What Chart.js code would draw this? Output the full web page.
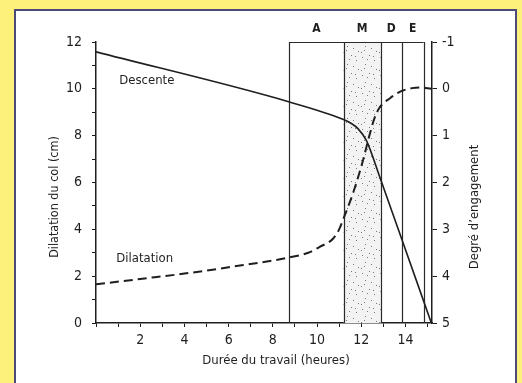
<!DOCTYPE html>
<html>
<head>
<meta charset="utf-8">
<script src="https://cdn.jsdelivr.net/npm/chart.js@4.4.1/dist/chart.umd.min.js"></script>
<style>
  html, body { margin: 0; padding: 0; }
  body { width: 522px; height: 383px; background: #fdf17c; position: relative; overflow: hidden; }
  #panel { position: absolute; left: 14px; top: 9px; width: 503px; height: 400px; background: #fff; border: 2px solid #4b4a78; box-sizing: border-box; }
  #chart { position: absolute; left: 0; top: 0; }
</style>
</head>
<body>
<div id="panel"></div>
<canvas id="chart" width="522" height="383"></canvas>
<script>
// Descente (degré d'engagement, right axis)
const descenteHours = [0, 8.75, 11.17, 11.55, 11.85, 12.23, 12.85, 13.81, 14.79, 15.17];
const descenteDegre = [-0.79, 0.28, 0.65, 0.74, 0.85, 1.1, 1.9, 3.18, 4.49, 5];

// Dilatation du col (cm, left axis)
const dilatHours = [0, 2, 4, 6, 8.75, 9.6, 10.12, 10.72, 11.0, 11.17, 11.4, 11.63, 12.08, 12.38, 12.6, 12.83, 13.3, 13.81, 14.3, 14.64, 15.17];
const dilatCm = [1.65, 1.88, 2.11, 2.38, 2.8, 3.0, 3.25, 3.6, 4.0, 4.4, 4.95, 5.55, 6.95, 8.05, 8.75, 9.2, 9.6, 9.9, 10.03, 10.06, 10.0];

// phases
const phaseBounds = [8.75, 11.2, 12.88, 13.84, 14.82];
const phaseLabels = ['A', 'M', 'D', 'E'];
const shadedPhase = 'M';

const FONT = '"Liberation Sans Narrow", "DejaVu Sans Condensed", "Roboto", sans-serif';
const INK = '#1e1e1e';

function stipple(ctx) {
    const c = document.createElement('canvas');
    c.width = 18; c.height = 18;
    const g = c.getContext('2d');
    g.fillStyle = '#f3f3f3';
    g.fillRect(0, 0, 18, 18);
    g.fillStyle = '#7a7a7a';
    const dots = [[2, 3], [9, 1], [14, 6], [5, 10], [11, 12], [16, 15], [1, 16], [7, 5], [13, 2], [4, 14]];
    dots.forEach(d => g.fillRect(d[0], d[1], 1, 1));
    return ctx.createPattern(c, 'repeat');
}

const overlay = {
    id: 'overlay',
    beforeDatasetsDraw(chart) {
        const {ctx, scales: {x, y}} = chart;
        const top = y.getPixelForValue(12), bot = y.getPixelForValue(0);
        ctx.save();
        phaseLabels.forEach((lab, i) => {
            const x0 = x.getPixelForValue(phaseBounds[i]);
            const x1 = x.getPixelForValue(phaseBounds[i + 1]);
            if (lab === shadedPhase) {
                ctx.fillStyle = stipple(ctx);
                ctx.fillRect(x0, top, x1 - x0, bot - top);
            }
        });
        ctx.strokeStyle = '#2a2a2a';
        ctx.lineWidth = 1.2;
        ctx.beginPath();
        phaseBounds.forEach(b => {
            const px = Math.round(x.getPixelForValue(b)) + 0.5;
            ctx.moveTo(px, bot);
            ctx.lineTo(px, top);
        });
        ctx.moveTo(x.getPixelForValue(phaseBounds[0]), Math.round(top) + 0.5);
        ctx.lineTo(x.getPixelForValue(phaseBounds[phaseBounds.length - 1]), Math.round(top) + 0.5);
        ctx.stroke();

        ctx.fillStyle = INK;
        ctx.font = '600 12px ' + FONT;
        ctx.textAlign = 'center';
        ctx.textBaseline = 'middle';
        phaseLabels.forEach((lab, i) => {
            const cx = (x.getPixelForValue(phaseBounds[i]) + x.getPixelForValue(phaseBounds[i + 1])) / 2;
            ctx.fillText(lab, cx, top - 13);
        });
        ctx.restore();
    },
    afterDraw(chart) {
        const {ctx, scales: {x, y}} = chart;
        ctx.save();
        ctx.fillStyle = INK;
        ctx.textBaseline = 'middle';
        ctx.textAlign = 'center';
        ctx.font = '500 13px ' + FONT;
        ctx.fillText('Descente', x.getPixelForValue(2.3), y.getPixelForValue(10.37));
        ctx.fillText('Dilatation', x.getPixelForValue(2.2), y.getPixelForValue(2.76));

        ctx.font = '13px ' + FONT;
        ctx.fillText('Durée du travail (heures)', 276, 361);

        ctx.save();
        ctx.translate(55, 197);
        ctx.rotate(-Math.PI / 2);
        ctx.font = '12.5px ' + FONT;
        ctx.fillText('Dilatation du col (cm)', 0, 0);
        ctx.restore();

        ctx.save();
        ctx.translate(475, 207);
        ctx.rotate(-Math.PI / 2);
        ctx.font = '13px ' + FONT;
        ctx.fillText('Degré d\u2019engagement', 0, 0);
        ctx.restore();
        ctx.restore();
    }
};

const toPts = (xs, ys) => xs.map((v, i) => ({x: v, y: ys[i]}));

new Chart(document.getElementById('chart'), {
    type: 'line',
    data: {
        datasets: [
            {
                label: 'Descente',
                data: toPts(descenteHours, descenteDegre),
                yAxisID: 'y2',
                borderColor: INK,
                borderWidth: 1.6,
                pointRadius: 0,
                cubicInterpolationMode: 'monotone',
                fill: false
            },
            {
                label: 'Dilatation',
                data: toPts(dilatHours, dilatCm),
                yAxisID: 'y',
                borderColor: INK,
                borderWidth: 2,
                borderDash: [9, 5],
                pointRadius: 0,
                cubicInterpolationMode: 'monotone',
                fill: false
            }
        ]
    },
    options: {
        responsive: false,
        animation: false,
        devicePixelRatio: 1,
        layout: {padding: {top: 42, left: 0, right: 0, bottom: 0}},
        plugins: {legend: {display: false}, tooltip: {enabled: false}},
        scales: {
            x: {
                type: 'linear',
                min: 0,
                max: 15.2,
                afterFit: s => { s.height = 60; },
                grid: {drawOnChartArea: false, drawTicks: true, tickLength: 4, color: INK, lineWidth: 1},
                border: {display: true, color: INK, width: 1.5},
                ticks: {
                    stepSize: 1,
                    includeBounds: false,
                    autoSkip: false,
                    maxRotation: 0,
                    padding: 5,
                    color: INK,
                    font: {family: FONT, size: 14},
                    callback: v => (v % 2 === 0 && v !== 0) ? String(v) : ''
                }
            },
            y: {
                position: 'left',
                min: 0,
                max: 12,
                afterFit: s => { s.width = 96; },
                grid: {drawOnChartArea: false, drawTicks: true, tickLength: 4, color: INK, lineWidth: 1},
                border: {display: true, color: INK, width: 1.5},
                ticks: {
                    stepSize: 1,
                    autoSkip: false,
                    padding: 10,
                    color: INK,
                    font: {family: FONT, size: 14},
                    callback: v => (v % 2 === 0) ? String(v) : ''
                }
            },
            y2: {
                position: 'right',
                min: -1,
                max: 5,
                reverse: true,
                afterFit: s => { s.width = 90; },
                grid: {drawOnChartArea: false, drawTicks: true, tickLength: 5, color: INK, lineWidth: 1},
                border: {display: true, color: INK, width: 1.5},
                ticks: {
                    stepSize: 1,
                    autoSkip: false,
                    padding: 5,
                    color: INK,
                    font: {family: FONT, size: 14},
                    callback: v => String(v)
                }
            }
        }
    },
    plugins: [overlay]
});
</script>
</body>
</html>
